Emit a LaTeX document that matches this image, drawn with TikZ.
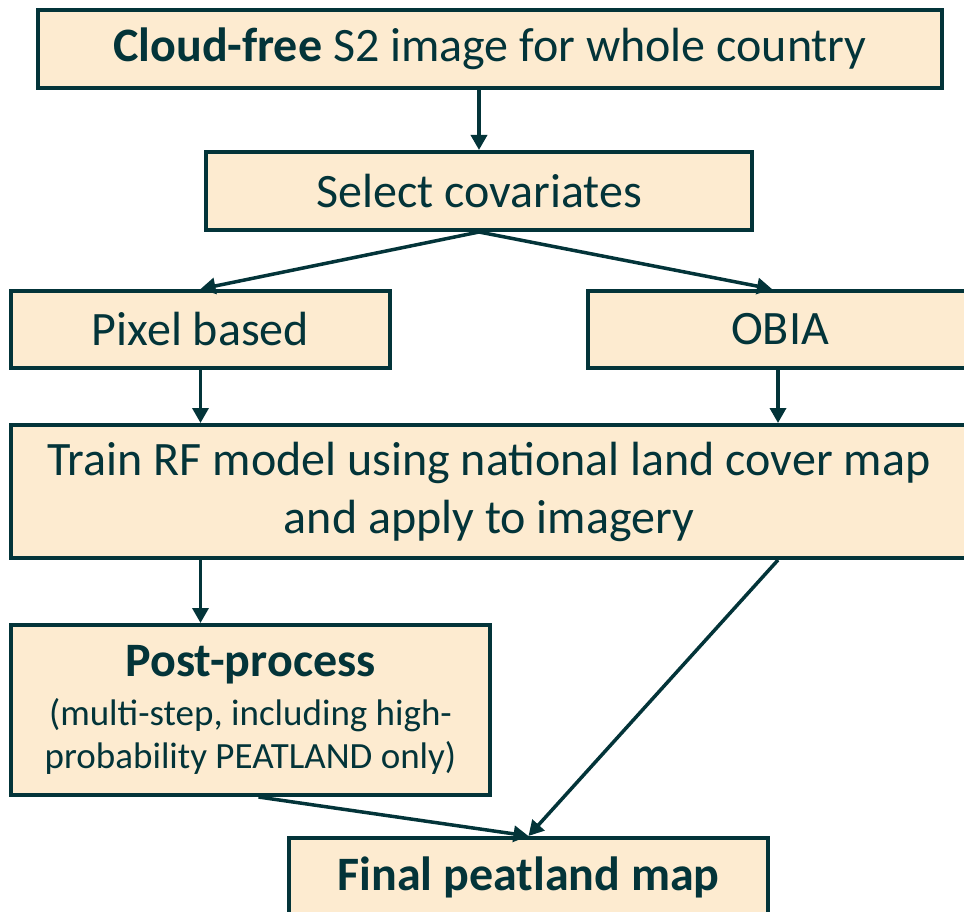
\documentclass[tikz,border=0pt]{standalone}
\usepackage{fontspec}
\setmainfont{Carlito}
\usepackage{xcolor}
\usetikzlibrary{positioning, arrows.meta}
\definecolor{boxfill}{HTML}{FDEBD0}
\definecolor{ink}{HTML}{033439}
\newcommand{\subsize}{\fontsize{37}{44}\selectfont}
\tikzset{
    stage/.style={rectangle, draw=ink, line width=4pt, fill=boxfill, text=ink, align=center, inner sep=0pt, font=\fontsize{48}{58}\selectfont},
    flow/.style={draw=ink, line width=3.5pt, -{Triangle[length=15pt, width=16pt]}}
}

\begin{document}
\begin{tikzpicture}[x=1pt, y=-1pt]
            \useasboundingbox (0, 0) rectangle (964, 912);
            \clip (0, 0) rectangle (964, 912);
            \node[stage, minimum width=904pt, minimum height=78pt] (cloud) at (490, 49) {\textbf{Cloud-free} S2 image for whole country};
            \node[stage, minimum width=546pt, minimum height=78pt] (select) at (479, 191) {Select covariates};
            \node[stage, minimum width=379pt, minimum height=77pt] (pixel) at (200.5, 329.5) {Pixel based};
            \node[stage, minimum width=384pt, minimum height=77pt] (obia) at (780, 329.5) {OBIA};
            \node[stage, minimum width=956pt, minimum height=133pt] (train) at (489, 491.5) {Train RF model using national land cover map\\and apply to imagery};
            \node[stage, minimum width=479pt, minimum height=170pt] (post) at (250.5, 710) {\textbf{Post-process}\\[-9pt]\subsize (multi-step, including high-\\[-15pt]\subsize probability PEATLAND only)};
            \node[stage, minimum width=479pt, minimum height=78pt] (final) at (528.5, 877) {\textbf{Final peatland map}};

            \draw[flow] (cloud.south -| select.north) -- (select.north);
            \draw[flow] (select.south) -- (pixel.north);
            \draw[flow] (select.south) -- ([xshift=-8pt]obia.north);
            \draw[flow] (pixel.south) -- (pixel.south |- train.north);
            \draw[flow] ([xshift=-2pt]obia.south) -- ([xshift=-2pt]obia.south |- train.north);
            \draw[flow] (train.south -| pixel.south) -- (post.north -| pixel.south);
            \draw[flow] ([xshift=-2pt]train.south -| obia.south) -- (final.north);
            \draw[flow] ([xshift=8pt]post.south) -- (final.north);
        \end{tikzpicture}
\end{document}
